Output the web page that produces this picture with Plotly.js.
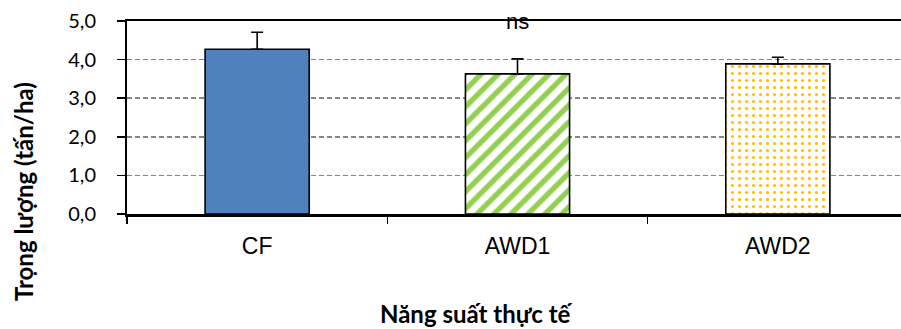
<!DOCTYPE html>
<html>
<head>
<meta charset="utf-8">
<script src="https://cdn.plot.ly/plotly-3.0.1.min.js"></script>
<style>
  html, body { margin: 0; padding: 0; background: #fff; overflow: hidden; }
  #chart { width: 910px; height: 329px; }
</style>
</head>
<body>
<div id="chart"></div>
<script>
// Actual yield by irrigation treatment (t/ha), with standard error above each bar
const categories = ["CF", "AWD1", "AWD2"];
const yieldValues = [4.27, 3.63, 3.89];
const yieldErrors = [0.44, 0.39, 0.17];
const yTickValues = [0, 1, 2, 3, 4, 5];

// Fill style per treatment: solid blue, green diagonal hatch, orange dots
const fillColors = ["#4F81BD", "#92D050", "#FFC000"];
const patternShapes = ["", "/", "."];
const patternSizes = [8, 12, 7];
const patternSolidity = [0.3, 0.45, 0.16];

const traces = categories.map((cat, i) => ({
  type: "bar",
  x: [cat],
  y: [yieldValues[i]],
  width: 0.4,
  marker: {
    color: fillColors[i],
    line: { color: "#000000", width: 1.6 },
    pattern: {
      shape: patternShapes[i],
      fillmode: "replace",
      fgcolor: fillColors[i],
      bgcolor: "#FFFFFF",
      size: patternSizes[i],
      solidity: patternSolidity[i]
    }
  },
  error_y: {
    type: "data",
    symmetric: false,
    array: [yieldErrors[i]],
    arrayminus: [0],
    color: "#000000",
    thickness: 1.6,
    width: 6
  },
  hoverinfo: "x+y"
}));

const layout = {
  width: 910,
  height: 329,
  margin: { l: 127, r: 2, t: 21, b: 115 },
  paper_bgcolor: "#FFFFFF",
  plot_bgcolor: "#FFFFFF",
  separators: ",.",
  showlegend: false,
  barmode: "overlay",
  xaxis: {
    type: "category",
    categoryorder: "array",
    categoryarray: categories,
    tickson: "boundaries",
    ticks: "outside",
    ticklen: 7,
    tickwidth: 1.5,
    tickcolor: "#000000",
    showline: true,
    linecolor: "#000000",
    linewidth: 2.5,
    mirror: true,
    showgrid: false,
    tickfont: { family: "Liberation Sans, Arial, sans-serif", size: 23, color: "#000000" },
    ticklabelstandoff: 10
  },
  yaxis: {
    range: [0, 5],
    tickvals: yTickValues,
    tickformat: ".1f",
    ticks: "outside",
    ticklen: 8,
    tickwidth: 1.5,
    tickcolor: "#000000",
    showline: true,
    linecolor: "#000000",
    linewidth: 2,
    mirror: true,
    showgrid: true,
    gridcolor: "#868686",
    gridwidth: 1.5,
    griddash: "5px,3px",
    zeroline: false,
    tickfont: { family: "Lato, sans-serif", size: 20, color: "#000000" },
    ticklabelstandoff: 17
  },
  annotations: [
    {
      text: "ns",
      xref: "x", yref: "paper",
      x: "AWD1", y: 0.995,
      xanchor: "center", yanchor: "middle",
      showarrow: false,
      font: { family: "Liberation Sans, Arial, sans-serif", size: 22, color: "#000000" }
    },
    {
      text: "<b>Trọng lượng (tấn/ha)</b>",
      xref: "paper", yref: "paper",
      x: -0.1332, y: 0.119,
      xanchor: "center", yanchor: "middle",
      textangle: -90,
      showarrow: false,
      font: { family: "Lato, sans-serif", size: 24, color: "#000000" }
    },
    {
      text: "<b>Năng suất thực tế</b>",
      xref: "paper", yref: "paper",
      x: 0.448, y: -0.518,
      xanchor: "center", yanchor: "middle",
      showarrow: false,
      font: { family: "Lato, sans-serif", size: 24, color: "#000000" }
    }
  ]
};

Plotly.newPlot("chart", traces, layout, { displayModeBar: false, staticPlot: true });
</script>
</body>
</html>
